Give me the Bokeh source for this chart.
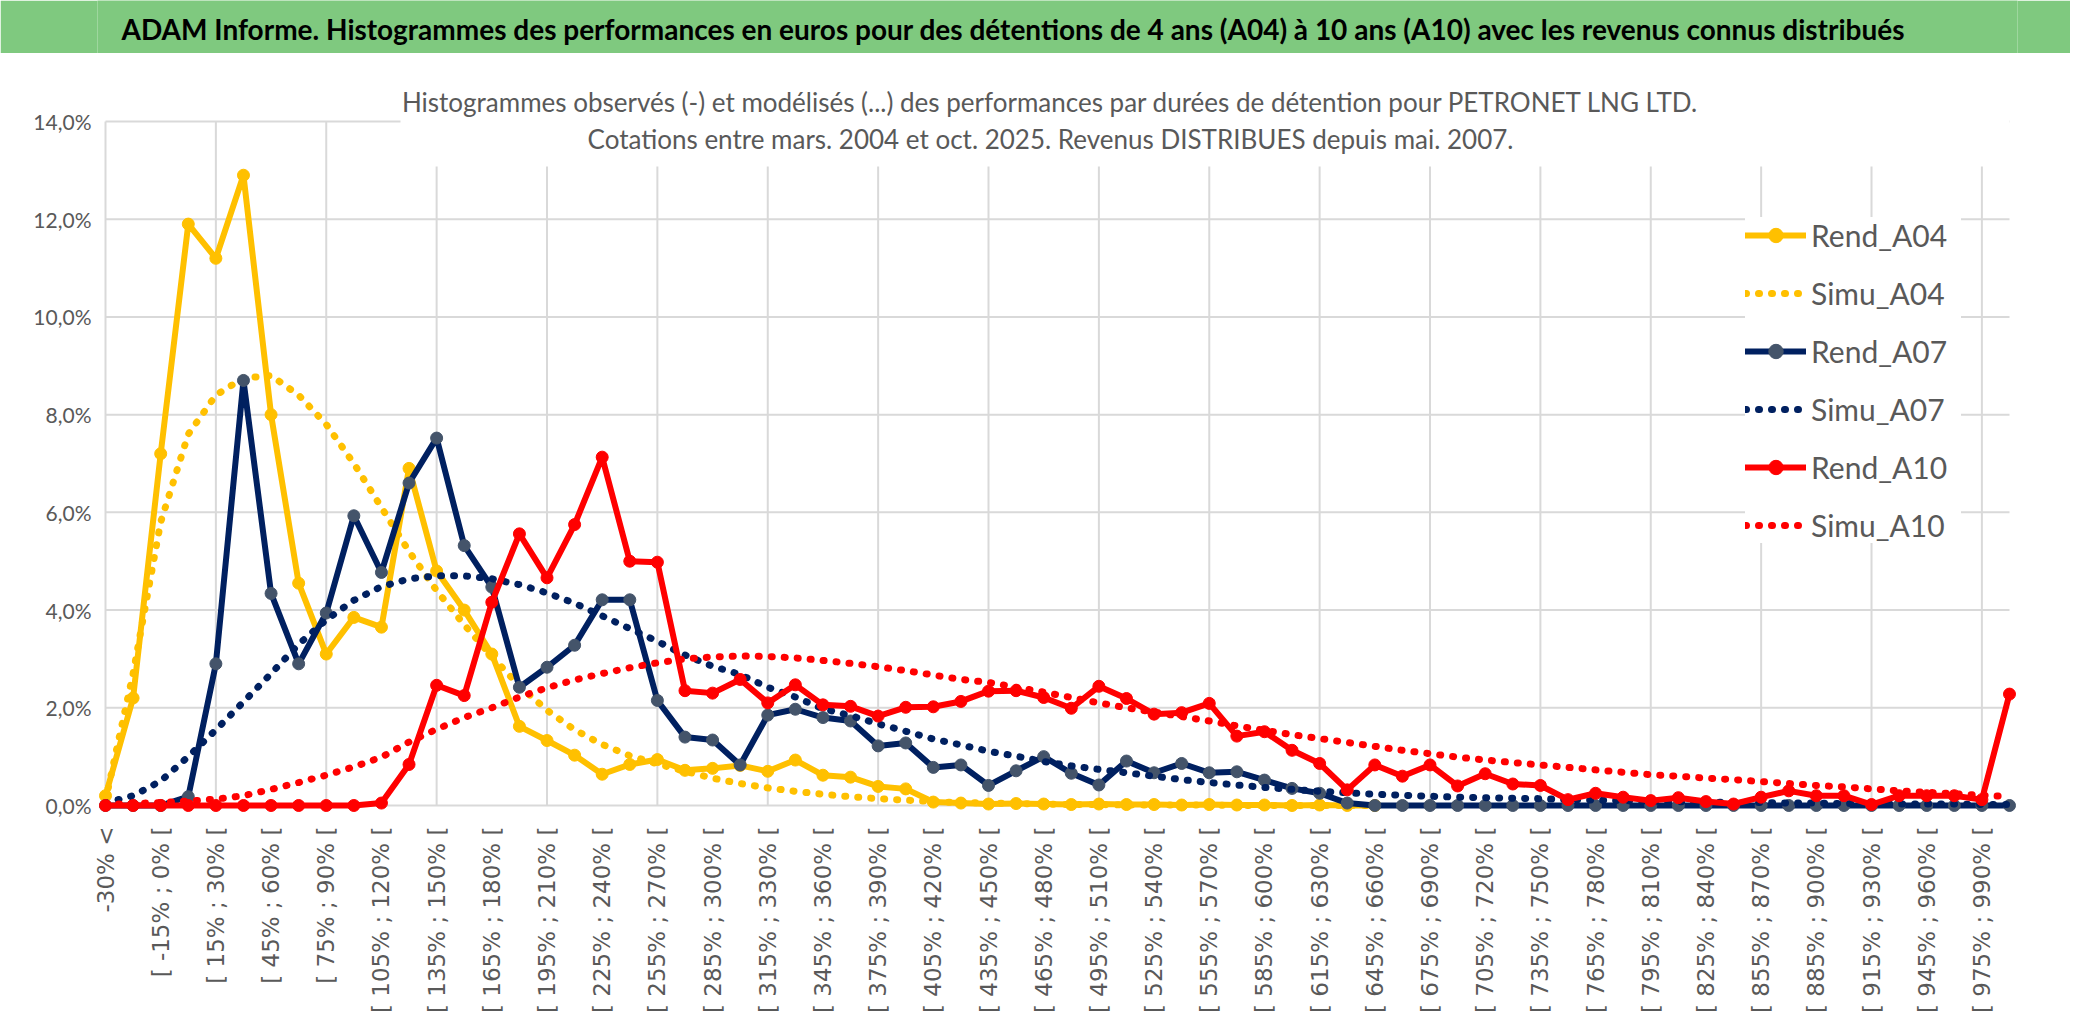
import math
import numpy as np
from bokeh.plotting import figure
from bokeh.layouts import column
from bokeh.models import (Range1d, FixedTicker, Legend, LegendItem, Label, BoxAnnotation)
from bokeh.embed import file_html
from bokeh.resources import INLINE

# ---------------- data ----------------
categories = ["-30% <"] + [f"[ {a}% ; {a + 15}% [" for a in range(-30, 990, 15)] + ["990% >"]

rend_a04 = [0.2, 2.2, 7.2, 11.9, 11.2, 12.9, 8.0, 4.55, 3.1, 3.85,
            3.65, 6.9, 4.8, 4.0, 3.1, 1.62, 1.33, 1.03, 0.64, 0.84,
            0.94, 0.72, 0.76, 0.82, 0.7, 0.93, 0.62, 0.58, 0.39, 0.34,
            0.07, 0.05, 0.03, 0.04, 0.03, 0.02, 0.03, 0.02, 0.02, 0.01,
            0.02, 0.01, 0.01, 0.0, 0.01, 0.0, 0.0] + [None] * 23

simu_a04 = [0.1, 2.7, 5.8, 7.6, 8.4, 8.75, 8.8, 8.4, 7.8, 7.0,
            6.1, 5.2, 4.4, 3.7, 3.05, 2.45, 1.95, 1.55, 1.25, 1.02,
            0.85, 0.7, 0.56, 0.45, 0.36, 0.29, 0.23, 0.18, 0.14, 0.11,
            0.08, 0.06, 0.05, 0.04, 0.03, 0.02, 0.02, 0.01, 0.01, 0.01,
            0.01, 0.0, 0.0, 0.0, 0.0, 0.0, 0.0] + [None] * 23

rend_a07 = [0.0, 0.0, 0.0, 0.18, 2.9, 8.7, 4.34, 2.9, 3.94, 5.93,
            4.77, 6.6, 7.52, 5.32, 4.47, 2.42, 2.83, 3.28, 4.21, 4.21,
            2.15, 1.4, 1.34, 0.83, 1.85, 1.97, 1.8, 1.73, 1.22, 1.28,
            0.78, 0.83, 0.41, 0.71, 1.0, 0.66, 0.42, 0.91, 0.67, 0.86,
            0.67, 0.69, 0.52, 0.35, 0.25, 0.05, 0.0, 0.0, 0.0, 0.0,
            0.0, 0.0, 0.0, 0.0, 0.0, 0.0, 0.0, 0.0, 0.0, 0.0,
            0.0, 0.0, 0.0, 0.0, 0.0, 0.0, 0.0, 0.0, 0.0, 0.0]

simu_a07 = [0.05, 0.2, 0.5, 1.0, 1.55, 2.12, 2.7, 3.3, 3.8, 4.2,
            4.48, 4.64, 4.7, 4.7, 4.64, 4.52, 4.35, 4.14, 3.88, 3.62,
            3.36, 3.08, 2.85, 2.68, 2.42, 2.22, 1.98, 1.84, 1.67, 1.52,
            1.36, 1.24, 1.11, 1.01, 0.9, 0.81, 0.74, 0.67, 0.6, 0.53,
            0.47, 0.42, 0.37, 0.33, 0.29, 0.26, 0.23, 0.21, 0.19, 0.17,
            0.16, 0.15, 0.14, 0.12, 0.11, 0.1, 0.09, 0.08, 0.07, 0.06,
            0.06, 0.05, 0.05, 0.04, 0.04, 0.03, 0.03, 0.03, 0.02, 0.02]

rend_a10 = [0.0, 0.0, 0.0, 0.0, 0.0, 0.0, 0.0, 0.0, 0.0, 0.0,
            0.05, 0.84, 2.46, 2.25, 4.16, 5.56, 4.66, 5.75, 7.13, 5.0,
            4.98, 2.35, 2.3, 2.58, 2.1, 2.47, 2.06, 2.03, 1.83, 2.01,
            2.02, 2.13, 2.34, 2.35, 2.21, 1.99, 2.44, 2.19, 1.87, 1.9,
            2.09, 1.42, 1.51, 1.13, 0.86, 0.32, 0.83, 0.6, 0.83, 0.4,
            0.65, 0.44, 0.41, 0.12, 0.25, 0.17, 0.1, 0.16, 0.08, 0.03,
            0.17, 0.3, 0.2, 0.2, 0.02, 0.2, 0.2, 0.2, 0.12, 2.28]

simu_a10 = [0.02, 0.04, 0.06, 0.09, 0.13, 0.2, 0.33, 0.47, 0.62, 0.79,
            0.99, 1.3, 1.56, 1.8, 2.0, 2.22, 2.41, 2.57, 2.7, 2.82,
            2.92, 3.0, 3.04, 3.06, 3.05, 3.02, 2.97, 2.91, 2.84, 2.76,
            2.67, 2.58, 2.52, 2.42, 2.32, 2.21, 2.1, 2.0, 1.91, 1.82,
            1.73, 1.63, 1.54, 1.45, 1.37, 1.29, 1.21, 1.13, 1.06, 0.99,
            0.93, 0.88, 0.83, 0.78, 0.73, 0.68, 0.63, 0.6, 0.56, 0.53,
            0.49, 0.45, 0.41, 0.38, 0.34, 0.3, 0.27, 0.24, 0.21, 0.18]

y_ticks = [0, 2, 4, 6, 8, 10, 12, 14]
y_labels = ["0,0%", "2,0%", "4,0%", "6,0%", "8,0%", "10,0%", "12,0%", "14,0%"]
x_label_ticks = list(range(0, len(categories), 2))
x_grid_ticks = list(range(0, len(categories), 4))

banner_text = ("ADAM Informe. Histogrammes des performances en euros pour des détentions "
               "de 4 ans (A04) à 10 ans (A10) avec les revenus connus distribués")
title_line1 = ("Histogrammes observés (-) et modélisés (...) des performances par durées "
               "de détention pour PETRONET LNG LTD.")
title_line2 = "Cotations entre mars. 2004 et oct. 2025. Revenus DISTRIBUES depuis mai. 2007."

YELLOW = "#FFC000"
NAVY = "#002060"
NAVY_MK = "#44546A"
RED = "#FF0000"
GRID = "#D9D9D9"
GREY_TXT = "#595959"
GREEN = "#7FC97F"
SANS = "Lato"

# ---------------- layout constants (px) ----------------
TOTAL_W = 2070
BANNER_H = 53
FW, FH = 1920, 757
BL, BT, BB = 97, 7, 200
BR = TOTAL_W - BL - FW
PX_PER_CAT = 27.594
PX_PER_PCT = 48.857
x0 = -8 / PX_PER_CAT
y_top = 14 + 61 / PX_PER_PCT
y0 = y_top - FH / PX_PER_PCT

x = np.arange(len(categories))

# ---------------- banner ----------------
b = figure(width=TOTAL_W, height=BANNER_H, x_range=(0, 1), y_range=(0, 1),
           toolbar_location=None, output_backend="svg", min_border=0,
           x_axis_type=None, y_axis_type=None, outline_line_color=None,
           background_fill_color=GREEN, border_fill_color=GREEN)
b.grid.visible = False
b.add_layout(Label(x=24, y=25, x_units="screen", y_units="screen", text=banner_text,
                   text_font=SANS, text_font_style="bold", text_font_size="28px",
                   text_color="black", text_baseline="middle", text_align="left"))

# ---------------- main chart ----------------
p = figure(frame_width=FW, frame_height=FH,
           min_border_left=BL, min_border_right=BR, min_border_top=BT, min_border_bottom=BB,
           x_range=Range1d(x0, x0 + FW / PX_PER_CAT), y_range=Range1d(y0, y_top),
           toolbar_location=None, output_backend="svg",
           background_fill_color="white", border_fill_color="white",
           outline_line_color=None)
p.grid.visible = False

# grid lines
p.segment(x0=x_grid_ticks, y0=[0] * len(x_grid_ticks), x1=x_grid_ticks,
          y1=[14] * len(x_grid_ticks), line_color=GRID, line_width=2)
p.segment(x0=[0] * len(y_ticks), y0=y_ticks, x1=[len(categories) - 1] * len(y_ticks),
          y1=y_ticks, line_color=GRID, line_width=2)

def arr(v):
    return np.array(v, dtype=float)

LW = 6
MS = 12
DOT = dict(line_width=7, line_dash="1 12", line_cap="round", line_join="round")

r1 = p.line(x, arr(rend_a04), line_color=YELLOW, line_width=LW, line_join="round", line_cap="round")
m1 = p.scatter(x, arr(rend_a04), marker="circle", size=MS, fill_color=YELLOW, line_color=YELLOW)
s1 = p.line(x, arr(simu_a04), line_color=YELLOW, **DOT)

r2 = p.line(x, arr(rend_a07), line_color=NAVY, line_width=LW, line_join="round", line_cap="round")
m2 = p.scatter(x, arr(rend_a07), marker="circle", size=MS, fill_color=NAVY_MK, line_color=NAVY_MK)
s2 = p.line(x, arr(simu_a07), line_color=NAVY, **DOT)

r3 = p.line(x, arr(rend_a10), line_color=RED, line_width=LW, line_join="round", line_cap="round")
m3 = p.scatter(x, arr(rend_a10), marker="circle", size=MS, fill_color=RED, line_color=RED)
s3 = p.line(x, arr(simu_a10), line_color=RED, **DOT)

# axes
p.xaxis.ticker = FixedTicker(ticks=x_label_ticks)
p.xaxis.major_label_overrides = {i: categories[i] for i in x_label_ticks}
p.xaxis.major_label_orientation = math.pi / 2
p.xaxis.major_label_text_font = "DejaVu Sans"
p.xaxis.major_label_text_font_size = "23px"
p.xaxis.major_label_text_color = GREY_TXT
p.xaxis.major_label_standoff = 3

p.yaxis.ticker = FixedTicker(ticks=y_ticks)
p.yaxis.major_label_overrides = {t: l for t, l in zip(y_ticks, y_labels)}
p.yaxis.major_label_text_font = SANS
p.yaxis.major_label_text_font_size = "21px"
p.yaxis.major_label_text_color = GREY_TXT
p.yaxis.major_label_standoff = 0

for ax in (p.xaxis, p.yaxis):
    ax.axis_line_color = None
    ax.major_tick_line_color = None
    ax.minor_tick_line_color = None

# chart title box (white, hides the grid behind the title)
p.add_layout(BoxAnnotation(left=(400 - 105) / PX_PER_CAT, right=len(categories) - 1,
                           bottom=14 - 45 / PX_PER_PCT, top=y_top,
                           fill_color="white", fill_alpha=1.0, line_color=None))
for txt, yy in ((title_line1, 716), (title_line2, 679)):
    p.add_layout(Label(x=953, y=yy, x_units="screen", y_units="screen", text=txt,
                       text_font=SANS, text_font_size="26px", text_color=GREY_TXT,
                       text_align="center", text_baseline="middle"))

legend = Legend(items=[
    LegendItem(label="Rend_A04", renderers=[r1, m1]),
    LegendItem(label="Simu_A04", renderers=[s1]),
    LegendItem(label="Rend_A07", renderers=[r2, m2]),
    LegendItem(label="Simu_A07", renderers=[s2]),
    LegendItem(label="Rend_A10", renderers=[r3, m3]),
    LegendItem(label="Simu_A10", renderers=[s3]),
], location=(1648, 274), orientation="vertical",
    label_text_font=SANS, label_text_font_size="30px", label_text_color=GREY_TXT,
    glyph_width=61, glyph_height=36, label_height=36, label_width=150,
    label_standoff=5, spacing=22, padding=10, margin=0,
    border_line_color=None, background_fill_color="white", background_fill_alpha=1.0)
p.add_layout(legend, "center")

layout = column(b, p, spacing=0)
open("out.html", "w").write(file_html(layout, INLINE))
